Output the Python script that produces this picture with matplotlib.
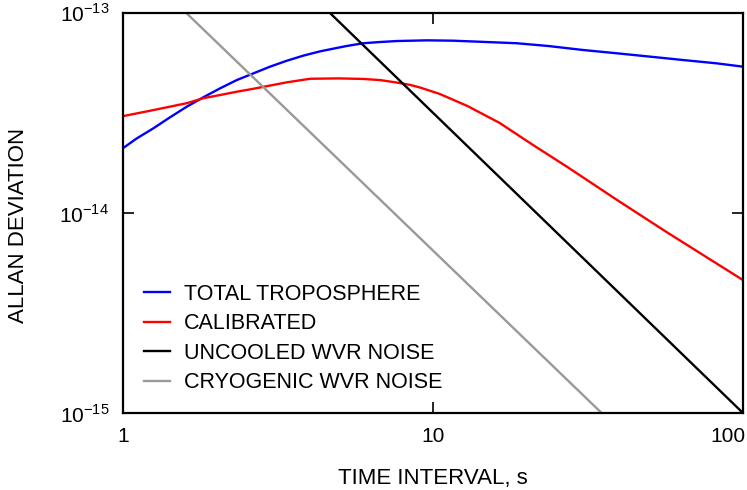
import numpy as np
import matplotlib
matplotlib.use("Agg")
import matplotlib.pyplot as plt
import matplotlib.transforms as mtransforms
from matplotlib.ticker import NullLocator, FixedLocator, FixedFormatter

plt.rcParams["font.family"] = ["Liberation Sans", "DejaVu Sans"]
plt.rcParams["mathtext.fontset"] = "custom"
plt.rcParams["mathtext.rm"] = "Liberation Sans"

# values (x in s, y in units of 1e-14)
tau_total = [1.0, 1.107, 1.252, 1.418, 1.605, 1.816, 2.056, 2.327, 2.633, 2.979, 3.373,
             3.815, 4.32, 4.95, 5.27, 5.96, 6.75, 7.64, 9.55, 11.6, 14.2, 18.6, 23.5,
             30.5, 39.1, 50.1, 64.0, 82.3, 100.0]
adev_total = [2.11, 2.36, 2.65, 3.01, 3.40, 3.79, 4.20, 4.62, 4.99, 5.39, 5.77,
              6.12, 6.43, 6.71, 6.84, 7.06, 7.16, 7.24, 7.30, 7.27, 7.18, 7.06, 6.84,
              6.53, 6.29, 6.05, 5.82, 5.60, 5.39]

tau_cal = [1.0, 1.252, 1.605, 1.816, 2.056, 2.327, 2.633, 3.373, 4.01, 4.95, 5.96,
           6.75, 7.64, 8.44, 9.08, 10.5, 12.9, 16.4, 21.0, 27.1, 39.3, 56.9, 100.0]
adev_cal = [3.05, 3.27, 3.54, 3.75, 3.89, 4.04, 4.18, 4.50, 4.69, 4.71, 4.68,
            4.62, 4.49, 4.37, 4.24, 3.94, 3.43, 2.82, 2.19, 1.70, 1.16, 0.80, 0.462]

tau_uncooled = [4.65, 100.0]
adev_uncooled = [10.0, 0.1]

tau_cryo = [1.6, 35.0]
adev_cryo = [10.0, 0.1]

fig = plt.figure(figsize=(7.47, 4.90), dpi=100)
ax = fig.add_axes([0.1647, 0.157, 0.83, 0.8165])

lw = 1.7
ax.plot(tau_total, np.array(adev_total) * 1e-14, color="#0000ff", lw=lw, label="TOTAL TROPOSPHERE")
ax.plot(tau_cal, np.array(adev_cal) * 1e-14, color="#ff0000", lw=lw, label="CALIBRATED")
ax.plot(tau_uncooled, np.array(adev_uncooled) * 1e-14, color="black", lw=lw, label="UNCOOLED WVR NOISE")
ax.plot(tau_cryo, np.array(adev_cryo) * 1e-14, color="#999999", lw=lw, label="CRYOGENIC WVR NOISE")

ax.set_xscale("log")
ax.set_yscale("log")
ax.set_xlim(1, 100)
ax.set_ylim(1e-15, 1e-13)

ax.xaxis.set_major_locator(FixedLocator([1, 10, 100]))
ax.xaxis.set_major_formatter(FixedFormatter(["1", "10", "100"]))
ax.xaxis.set_minor_locator(NullLocator())
ax.yaxis.set_major_locator(FixedLocator([1e-15, 1e-14, 1e-13]))
ax.yaxis.set_major_formatter(FixedFormatter([r"$10^{-15}$", r"$10^{-14}$", r"$10^{-13}$"]))
ax.yaxis.set_minor_locator(NullLocator())

ax.tick_params(which="major", direction="in", length=8, width=1.2, top=True, right=True,
               labelsize=15, pad=10)
for s in ax.spines.values():
    s.set_linewidth(1.6)

# last x label sits flush with the figure edge, like the reference
fig.canvas.draw()
lab100 = ax.get_xticklabels()[-1]
lab100.set_ha("right")
lab100.set_transform(lab100.get_transform() +
                     mtransforms.ScaledTranslation(2 / 72, 0, fig.dpi_scale_trans))

ax.set_xlabel("TIME INTERVAL, s", fontsize=16, labelpad=16)
ax.set_ylabel("ALLAN DEVIATION", fontsize=16)
ax.yaxis.set_label_coords(-0.152, 0.47)

ax.legend(loc="upper left", bbox_to_anchor=(0.02, 0.345), frameon=False, fontsize=15.5,
          handlelength=1.2, handletextpad=0.65, labelspacing=0.4, borderaxespad=0)

fig.savefig("out.png", dpi=100)
